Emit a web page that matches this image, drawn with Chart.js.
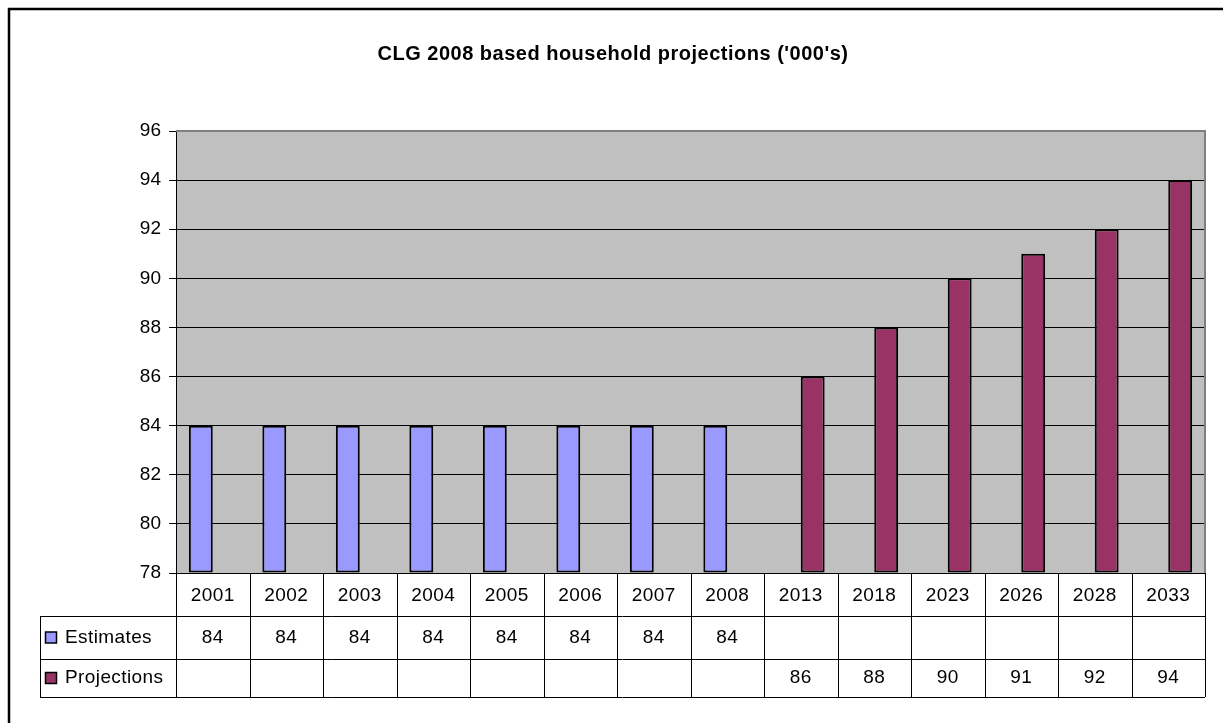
<!DOCTYPE html>
<html>
<head>
<meta charset="utf-8">
<script src="https://cdn.jsdelivr.net/npm/chart.js@4/dist/chart.umd.min.js"></script>
<style>
  html, body { margin: 0; padding: 0; background: #fff; }
  canvas { display: block; }
</style>
</head>
<body>
<canvas id="chart" width="1223" height="723"></canvas>
<script>
// === Data ===
const years = ["2001", "2002", "2003", "2004", "2005", "2006", "2007", "2008", "2013", "2018", "2023", "2026", "2028", "2033"];
const estimates = [84, 84, 84, 84, 84, 84, 84, 84, null, null, null, null, null, null];
const projections = [null, null, null, null, null, null, null, null, 86, 88, 90, 91, 92, 94];
const seriesNames = ["Estimates", "Projections"];
const seriesColors = ["#9999FF", "#993366"];
const chartTitle = "CLG 2008 based household projections ('000's)";

const FONT = "Arial, 'Liberation Sans', sans-serif";
const ROW_H = [43, 43, 38];
const TABLE_LEFT = 40;

// draws background, frame, title and the data table under the plot
const excelLook = {
    id: "excelLook",
    beforeDraw(chart) {
        const ctx = chart.ctx;
        const a = chart.chartArea;
        ctx.save();
        ctx.fillStyle = "#fff";
        ctx.fillRect(0, 0, chart.width, chart.height);
        // outer frame
        ctx.strokeStyle = "#000";
        ctx.lineWidth = 2.5;
        ctx.strokeRect(9, 9, chart.width + 50, chart.height + 50);
        // plot area
        ctx.fillStyle = "#C0C0C0";
        ctx.fillRect(a.left, a.top, a.right - a.left, a.bottom - a.top);
        ctx.restore();
    },
    afterDraw(chart) {
        const ctx = chart.ctx;
        const a = chart.chartArea;
        const x = chart.scales.x;
        const n = years.length;
        const cw = (a.right - a.left) / n;
        ctx.save();

        // plot border top/right
        ctx.strokeStyle = "#808080";
        ctx.lineWidth = 2;
        ctx.beginPath();
        ctx.moveTo(a.left, a.top);
        ctx.lineTo(a.right, a.top);
        ctx.lineTo(a.right, a.bottom);
        ctx.stroke();

        // title
        ctx.fillStyle = "#000";
        ctx.font = "bold 20px " + FONT;
        ctx.letterSpacing = "0.5px";
        ctx.textAlign = "center";
        ctx.textBaseline = "middle";
        ctx.fillText(chartTitle, 613, 54);

        // table
        const y0 = a.bottom;
        const y1 = y0 + ROW_H[0];
        const y2 = y1 + ROW_H[1];
        const y3 = y2 + ROW_H[2];
        ctx.strokeStyle = "#000";
        ctx.lineWidth = 1;
        ctx.beginPath();
        // horizontal lines
        ctx.moveTo(a.left, y0 + 0.5); ctx.lineTo(a.right, y0 + 0.5);
        ctx.moveTo(TABLE_LEFT, y1 + 0.5); ctx.lineTo(a.right, y1 + 0.5);
        ctx.moveTo(TABLE_LEFT, y2 + 0.5); ctx.lineTo(a.right, y2 + 0.5);
        ctx.moveTo(TABLE_LEFT, y3 + 0.5); ctx.lineTo(a.right, y3 + 0.5);
        // vertical lines
        ctx.moveTo(TABLE_LEFT + 0.5, y1); ctx.lineTo(TABLE_LEFT + 0.5, y3);
        for (let i = 0; i <= n; i++) {
            const px = Math.round(a.left + i * cw) + 0.5;
            ctx.moveTo(px, y0); ctx.lineTo(px, y3);
        }
        ctx.stroke();

        ctx.font = "19px " + FONT;
        ctx.letterSpacing = "0.4px";
        ctx.textAlign = "center";
        ctx.textBaseline = "middle";
        const rows = [estimates, projections];
        years.forEach((yr, i) => {
            const cx = x.getPixelForValue(i);
            ctx.fillText(yr, cx, (y0 + y1) / 2 + 1);
            rows.forEach((r, k) => {
                if (r[i] !== null) {
                    const top = k === 0 ? y1 : y2;
                    const bot = k === 0 ? y2 : y3;
                    ctx.fillText(String(r[i]), cx, (top + bot) / 2);
                }
            });
        });

        // legend keys
        ctx.textAlign = "left";
        seriesNames.forEach((name, k) => {
            const top = k === 0 ? y1 : y2;
            const bot = k === 0 ? y2 : y3;
            const cy = (top + bot) / 2;
            ctx.fillStyle = seriesColors[k];
            ctx.fillRect(45.5, cy - 5.5, 11, 11);
            ctx.strokeStyle = "#000";
            ctx.lineWidth = 1.5;
            ctx.strokeRect(45.5, cy - 5.5, 11, 11);
            ctx.fillStyle = "#000";
            ctx.fillText(name, 65, cy);
        });
        ctx.restore();
    }
};

new Chart(document.getElementById("chart"), {
    type: "bar",
    data: {
        labels: years,
        datasets: [
            {
                label: seriesNames[0],
                data: estimates,
                backgroundColor: seriesColors[0],
                borderColor: "#000",
                borderWidth: 2,
                borderSkipped: false,
                base: 78
            },
            {
                label: seriesNames[1],
                data: projections,
                backgroundColor: seriesColors[1],
                borderColor: "#000",
                borderWidth: 2,
                borderSkipped: false,
                base: 78
            }
        ]
    },
    options: {
        responsive: false,
        animation: false,
        devicePixelRatio: 1,
        layout: { padding: { left: 0, top: 131, right: 18, bottom: 150 } },
        datasets: { bar: { categoryPercentage: 0.65, barPercentage: 1.0 } },
        plugins: {
            legend: { display: false },
            title: { display: false },
            tooltip: { enabled: false }
        },
        scales: {
            x: { display: false },
            y: {
                min: 78,
                max: 96,
                afterFit(scale) { scale.width = 176; },
                border: { display: true, color: "#000", width: 1 },
                grid: { color: "#000", lineWidth: 1, tickLength: 7, tickColor: "#000" },
                ticks: {
                    stepSize: 2,
                    color: "#000",
                    padding: 8,
                    font: { family: FONT, size: 19 }
                }
            }
        }
    },
    plugins: [excelLook]
});
</script>
</body>
</html>
